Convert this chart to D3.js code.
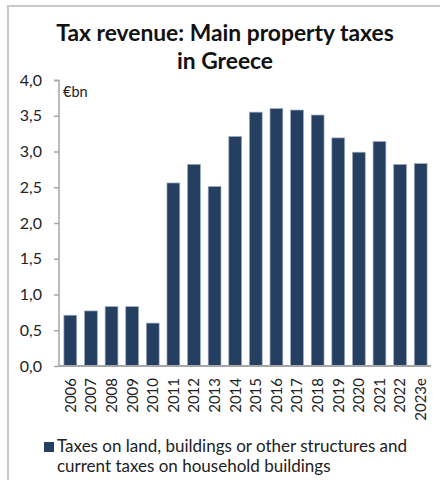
<!DOCTYPE html>
<html>
<head>
<meta charset="utf-8">
<script src="https://cdn.jsdelivr.net/npm/d3@7"></script>
<style>
  html, body { margin: 0; padding: 0; background: #fff; }
  svg { display: block; font-family: Lato, "Open Sans", sans-serif; }
</style>
</head>
<body>
<svg id="chart" width="440" height="480"></svg>
<script>
// Annual revenue from the main property taxes in Greece, € billions
const years = ["2006","2007","2008","2009","2010","2011","2012","2013","2014",
               "2015","2016","2017","2018","2019","2020","2021","2022","2023e"];
const revenue = [0.71, 0.77, 0.83, 0.83, 0.60, 2.56, 2.82, 2.51, 3.21,
                 3.55, 3.60, 3.58, 3.51, 3.19, 2.99, 3.14, 2.82, 2.83];
const yTicks = [0, 0.5, 1, 1.5, 2, 2.5, 3, 3.5, 4];
const titleLines = ["Tax revenue: Main property taxes", "in Greece"];
const unitLabel = "€bn";
const legendLines = ["Taxes on land, buildings or other structures and",
                     "current taxes on household buildings"];

const barColor = "#243f60";
const axisColor = "#a6a6a6";

const svg = d3.select("#chart");

// outer frame (top and left edges)
svg.append("line").attr("x1", 7).attr("x2", 440).attr("y1", 6).attr("y2", 6)
  .attr("stroke", "#c8c8c8").attr("stroke-width", 2);
svg.append("line").attr("x1", 8).attr("x2", 8).attr("y1", 5).attr("y2", 480)
  .attr("stroke", "#c8c8c8").attr("stroke-width", 2);

// title
svg.append("g").selectAll("text").data(titleLines).join("text")
  .attr("x", 225).attr("y", (d, i) => 41 + i * 28)
  .attr("text-anchor", "middle")
  .attr("font-weight", 700).attr("font-size", 22.8).attr("fill", "#111")
  .text(d => d);

const x = d3.scaleBand().domain(years).range([60, 431])
  .paddingInner(0.38).paddingOuter(0.19);
const y = d3.scaleLinear().domain([0, 4]).range([366, 80]);

// bars
svg.append("g").selectAll("rect").data(revenue).join("rect")
  .attr("x", (d, i) => x(years[i]))
  .attr("width", x.bandwidth())
  .attr("y", d => y(d))
  .attr("height", d => y(0) - y(d))
  .attr("fill", barColor)
  .attr("stroke", "#9aaabd").attr("stroke-width", 0.7);

// y axis
const fmt = d3.format(".1f");
const yAxis = svg.append("g").attr("transform", "translate(59,0)")
  .call(d3.axisLeft(y).tickValues(yTicks).tickSize(5).tickPadding(12)
    .tickFormat(d => fmt(d).replace(".", ",")));
yAxis.select(".domain").attr("stroke", axisColor).attr("stroke-width", 1.5)
  .attr("d", "M-5,80.5H0V366");
yAxis.selectAll(".tick line").attr("stroke", axisColor).attr("stroke-width", 1.5);
yAxis.selectAll(".tick text").attr("font-size", 16).attr("fill", "#222")
  .attr("font-family", "Lato, sans-serif");

// x axis
const xAxis = svg.append("g").attr("transform", "translate(0,366)")
  .call(d3.axisBottom(x).tickSize(0).tickPadding(0));
xAxis.select(".domain").attr("stroke", axisColor).attr("stroke-width", 2)
  .attr("d", "M59,0H431");
xAxis.selectAll(".tick text")
  .attr("font-size", 15).attr("fill", "#222").attr("font-family", "Lato, sans-serif")
  .attr("text-anchor", "end")
  .attr("transform", "rotate(-90)")
  .attr("x", -12).attr("y", 0).attr("dy", "0.36em");

// unit label
svg.append("text").attr("x", 63).attr("y", 97)
  .attr("font-size", 14.5).attr("fill", "#222").text(unitLabel);

// legend
svg.append("rect").attr("x", 44).attr("y", 442).attr("width", 10).attr("height", 10)
  .attr("fill", barColor);
svg.append("g").selectAll("text").data(legendLines).join("text")
  .attr("x", 57)
  .attr("y", (d, i) => 452 + i * 20)
  .attr("font-size", 17).attr("fill", "#222")
  .text(d => d);
</script>
</body>
</html>
